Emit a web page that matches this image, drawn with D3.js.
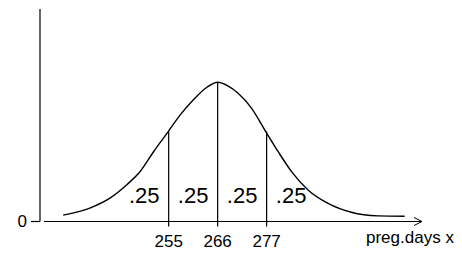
<!DOCTYPE html>
<html>
<head>
<meta charset="utf-8">
<script src="https://cdn.jsdelivr.net/npm/d3@7"></script>
<style>
  body { margin: 0; background: #fff; }
  svg { display: block; font-family: "Liberation Sans", Arial, sans-serif; }
</style>
</head>
<body>
<svg id="chart" width="462" height="271"></svg>
<script>
// curve: pregnancy days vs density
var curveDays = [231.3, 237.3, 241.8, 245.6, 248.6, 251.6, 254.9, 257.6, 260.5, 263.6, 266.0,
                 268.3, 270.6, 273.6, 276.6, 279.6, 282.6, 286.3, 290.8, 296.0, 302.0, 308.0];
var curveDens = [0.0018, 0.0038, 0.0066, 0.0104, 0.0141, 0.0197, 0.0254, 0.0301, 0.0343, 0.0379, 0.0393,
                 0.0383, 0.0362, 0.0320, 0.0258, 0.0197, 0.0141, 0.0089, 0.0051, 0.0026, 0.0016, 0.0015];

var quartileDays = [255, 266, 277];
var quartileDens = [0.0256, 0.0392, 0.0254];
var areaProbs = [0.25, 0.25, 0.25, 0.25];
var yTicks = [0];
var xTitle = "preg.days x";

var width = 462, height = 271;
var svg = d3.select("#chart");

var x = d3.scaleLinear().domain([227, 311]).range([44, 418]);
var y = d3.scaleLinear().domain([0, 0.06]).range([221.5, 9]);

var y0 = y(0);

// y axis
svg.append("line")
  .attr("x1", 40).attr("x2", 40)
  .attr("y1", y.range()[1]).attr("y2", y0)
  .attr("stroke", "#000").attr("stroke-width", 1.2);

svg.selectAll(".ytick").data(yTicks).enter().append("line")
  .attr("x1", 31).attr("x2", 40)
  .attr("y1", d => y(d)).attr("y2", d => y(d))
  .attr("stroke", "#000").attr("stroke-width", 1.2);

svg.selectAll(".ylab").data(yTicks).enter().append("text")
  .attr("x", 27).attr("y", d => y(d))
  .attr("dy", "0.35em")
  .attr("text-anchor", "end")
  .attr("font-size", 17)
  .text(d => d);

// x axis with open arrow
var xEnd = x.range()[1] + 4;
svg.append("line")
  .attr("x1", x.range()[0]).attr("x2", xEnd)
  .attr("y1", y0).attr("y2", y0)
  .attr("stroke", "#000").attr("stroke-width", 1.2);
svg.append("path")
  .attr("d", d3.line()([[xEnd - 8, y0 - 4], [xEnd, y0], [xEnd - 8, y0 + 4]]))
  .attr("fill", "none").attr("stroke", "#000").attr("stroke-width", 1);

svg.append("text")
  .attr("x", 366).attr("y", 243)
  .attr("font-size", 17)
  .text(xTitle);

// density curve
var pts = curveDays.map((d, i) => [d, curveDens[i]]);
var line = d3.line()
  .curve(d3.curveMonotoneX)
  .x(d => x(d[0]))
  .y(d => y(d[1]));

svg.append("path")
  .datum(pts)
  .attr("d", line)
  .attr("fill", "none")
  .attr("stroke", "#000")
  .attr("stroke-width", 1.4);

// quartile lines, extending below axis as ticks
svg.selectAll(".qline").data(quartileDays).enter().append("line")
  .attr("x1", d => x(d)).attr("x2", d => x(d))
  .attr("y1", (d, i) => y(quartileDens[i]))
  .attr("y2", y0 + 5)
  .attr("stroke", "#000").attr("stroke-width", 1.2);

svg.selectAll(".qlab").data(quartileDays).enter().append("text")
  .attr("x", d => x(d)).attr("y", 246.5)
  .attr("text-anchor", "middle")
  .attr("font-size", 17)
  .text(d => d);

// probability labels centred in each quarter
var step = quartileDays[1] - quartileDays[0];
var bounds = [quartileDays[0] - step].concat(quartileDays, [quartileDays[2] + step]);
svg.selectAll(".plab").data(areaProbs).enter().append("text")
  .attr("x", (d, i) => x((bounds[i] + bounds[i + 1]) / 2))
  .attr("y", 203.3)
  .attr("text-anchor", "middle")
  .attr("font-size", 22)
  .text(d => d3.format(".2f")(d).replace(/^0/, ""));
</script>
</body>
</html>
